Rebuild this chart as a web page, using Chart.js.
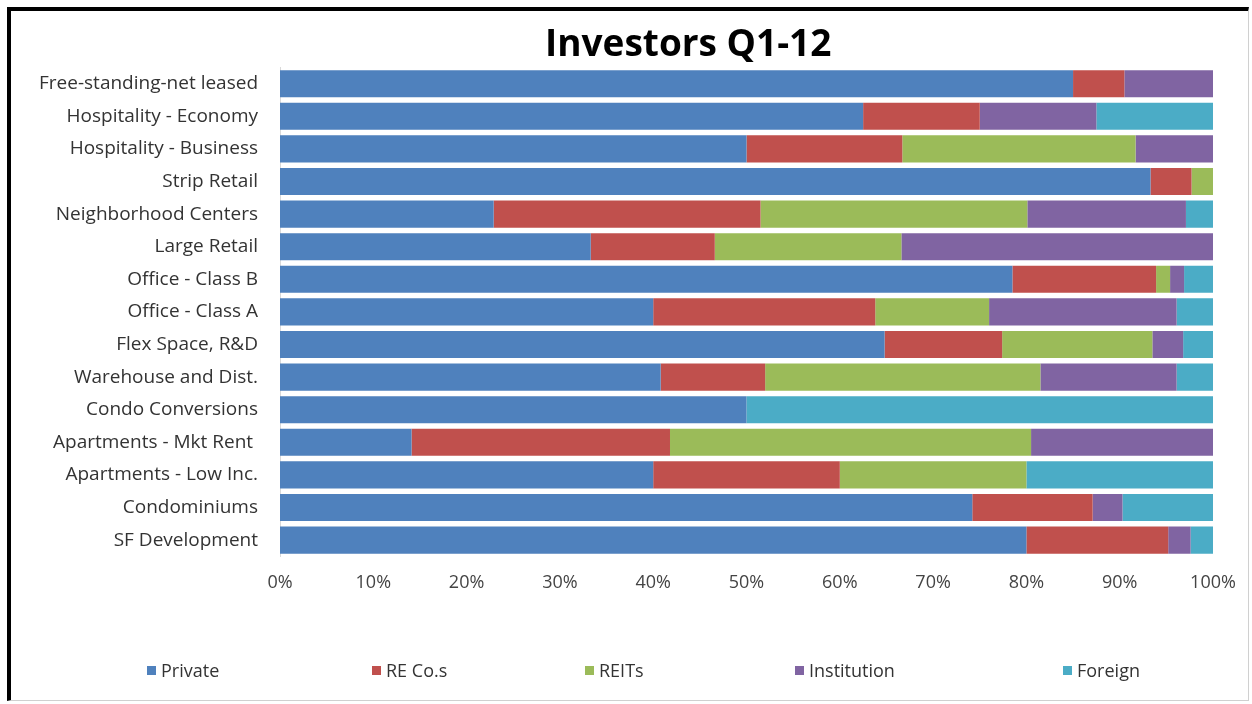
<!DOCTYPE html>
<html>
<head>
<meta charset="utf-8">
<script src="https://cdn.jsdelivr.net/npm/chart.js@4"></script>
<style>
  html, body { margin: 0; padding: 0; background: #fff; }
  #wrap { position: relative; width: 1252px; height: 704px; }
  #frame {
    position: absolute; left: 7px; top: 7px; width: 1237px; height: 689px;
    border-left: 4px solid #000; border-top: 4px solid #000;
    border-right: 1px solid #d0d0d0; border-bottom: 1px solid #d0d0d0;
    pointer-events: none;
  }
  #legend {
    position: absolute; left: 0; top: 658px; width: 1252px; height: 26px;
    font-family: "Open Sans", sans-serif; font-size: 18px; color: #333;
  }
  #legend span.item { position: absolute; top: 0; display: flex; align-items: center; white-space: nowrap; }
  #legend span.box { display: inline-block; width: 9px; height: 9px; margin-right: 5px; }
</style>
</head>
<body>
<div id="wrap">
  <canvas id="investors" width="1252" height="704"></canvas>
  <div id="frame"></div>
  <div id="legend"></div>
</div>
<script>
var categories = [
  'Free-standing-net leased', 'Hospitality - Economy', 'Hospitality - Business',
  'Strip Retail', 'Neighborhood Centers', 'Large Retail', 'Office - Class B',
  'Office - Class A', 'Flex Space, R&D', 'Warehouse and Dist.', 'Condo Conversions',
  'Apartments - Mkt Rent ', 'Apartments - Low Inc.', 'Condominiums', 'SF Development'
];
var privateVals     = [85.0, 62.5, 50.0, 93.3, 22.9, 33.3, 78.5, 40.0, 64.8, 40.8, 50.0, 14.1, 40.0, 74.2, 80.0];
var reCoVals        = [ 5.5, 12.5, 16.7,  4.4, 28.6, 13.3, 15.4, 23.8, 12.6, 11.2,  0.0, 27.7, 20.0, 12.9, 15.2];
var reitVals        = [ 0.0,  0.0, 25.0,  2.3, 28.6, 20.0,  1.5, 12.2, 16.1, 29.5,  0.0, 38.7, 20.0,  0.0,  0.0];
var institutionVals = [ 9.5, 12.5,  8.3,  0.0, 17.0, 33.4,  1.5, 20.1,  3.3, 14.6,  0.0, 19.5,  0.0,  3.2,  2.4];
var foreignVals     = [ 0.0, 12.5,  0.0,  0.0,  2.9,  0.0,  3.1,  3.9,  3.2,  3.9, 50.0,  0.0, 20.0,  9.7,  2.4];
var seriesNames = ['Private', 'RE Co.s', 'REITs', 'Institution', 'Foreign'];
var seriesColors = ['#4F81BD', '#C0504D', '#9BBB59', '#8064A2', '#4BACC6'];

// legend item left edges (px), to match the spread-out Excel legend
var legendLeft = [147, 372, 585, 795, 1063];

var font = '"Open Sans", sans-serif';
var allVals = [privateVals, reCoVals, reitVals, institutionVals, foreignVals];
var datasets = seriesNames.map(function (name, i) {
  return {
    label: name,
    data: allVals[i],
    backgroundColor: seriesColors[i],
    borderWidth: 0,
    barPercentage: 0.83,
    categoryPercentage: 1.0
  };
});

var ctx = document.getElementById('investors').getContext('2d');
var chart = new Chart(ctx, {
  type: 'bar',
  data: { labels: categories, datasets: datasets },
  options: {
    indexAxis: 'y',
    responsive: false,
    animation: false,
    layout: { padding: { left: 0, right: 39, top: 0, bottom: 94 } },
    scales: {
      x: {
        stacked: true, min: 0, max: 100,
        grid: { display: false, drawTicks: false },
        border: { display: false },
        ticks: {
          stepSize: 10, padding: 16, color: '#444',
          font: { family: font, size: 18 },
          callback: function (v) { return v + '%'; }
        }
      },
      y: {
        stacked: true,
        grid: { display: false, drawTicks: false },
        border: { display: true, color: '#d9d9d9' },
        ticks: { padding: 22, color: '#333', font: { family: font, size: 19 }, autoSkip: false },
        afterFit: function (scale) { scale.width = 280; }
      }
    },
    plugins: {
      legend: { display: false },
      tooltip: { enabled: false },
      title: {
        display: true,
        // leading spaces push the title right, as in the original
        text: '\u00a0'.repeat(17) + 'Investors Q1-12',
        color: '#000',
        font: { family: font, size: 37, weight: 'bold' },
        padding: { top: 23, bottom: 0 }
      }
    }
  }
});

var legend = document.getElementById('legend');
chart.data.datasets.forEach(function (ds, i) {
  var item = document.createElement('span');
  item.className = 'item';
  item.style.left = legendLeft[i] + 'px';
  var box = document.createElement('span');
  box.className = 'box';
  box.style.background = ds.backgroundColor;
  item.appendChild(box);
  item.appendChild(document.createTextNode(ds.label));
  legend.appendChild(item);
});
</script>
</body>
</html>
